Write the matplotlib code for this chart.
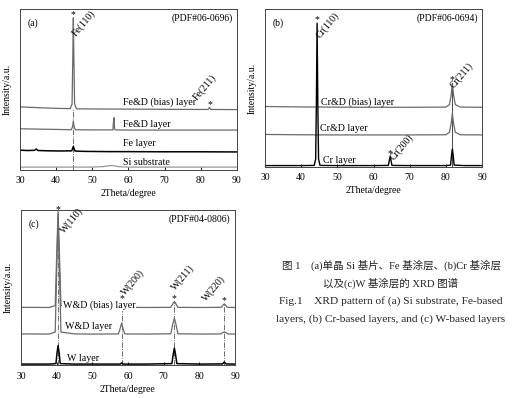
import matplotlib
matplotlib.use("Agg")
import matplotlib.pyplot as plt

plt.rcParams["font.family"] = ["Liberation Serif", "Noto Sans CJK SC"]

GREY = "#6a6a6a"
LIGHT = "#8c8c8c"
XTICKS = [30, 40, 50, 60, 70, 80, 90]

# ---- (a) Fe-based layers (2theta, a.u.)
FE_BIAS_X = [30, 35, 40, 43.9, 44.4, 44.6, 44.75, 44.9, 45.1, 45.6, 50, 60, 70, 80, 82.0, 82.4, 82.8, 90]
FE_BIAS_Y = [39.2, 38.7, 38.3, 38.1, 41.0, 70.0, 94.5, 70.0, 41.0, 38.0, 37.9, 37.8, 37.7, 37.6, 37.6, 38.8, 37.6, 37.5]
FED_X = [30, 40, 44.2, 44.55, 44.75, 44.95, 45.3, 50, 55.7, 55.85, 56.0, 56.15, 56.5, 60, 70, 80, 90]
FED_Y = [25.6, 25.2, 25.0, 27.0, 30.5, 27.0, 25.0, 24.9, 24.9, 30.0, 32.5, 25.3, 24.9, 24.8, 24.8, 24.8, 24.8]
FE_X = [30, 32, 34, 34.5, 35, 38, 41, 44.3, 44.75, 45.2, 47, 50, 55, 60, 70, 80, 90]
FE_Y = [12.3, 12.1, 12.2, 13.0, 12.1, 11.9, 11.8, 11.9, 14.6, 11.8, 11.6, 11.5, 11.4, 11.4, 11.3, 11.3, 11.2]
SI_X = [30, 40, 50, 53, 55, 56, 57.5, 60, 70, 80, 90]
SI_Y = [1.8, 1.8, 1.8, 2.1, 2.8, 2.6, 2.0, 1.8, 1.8, 1.8, 1.8]

# ---- (b) Cr-based layers
CR_BIAS_X = [30, 40, 50, 60, 70, 80, 81.0, 81.5, 81.8, 82.1, 82.6, 84, 90]
CR_BIAS_Y = [38.3, 38.0, 37.9, 37.8, 37.8, 37.9, 39.5, 46.0, 53.0, 46.0, 39.5, 37.9, 37.8]
CRD_X = [30, 40, 50, 60, 70, 80, 81.0, 81.5, 81.8, 82.1, 82.6, 84, 90]
CRD_Y = [20.6, 20.4, 20.3, 20.3, 20.3, 20.4, 22.0, 28.0, 34.0, 28.0, 22.0, 20.4, 20.3]
CR_X = [30, 35, 40, 43.6, 44.0, 44.2, 44.4, 44.6, 44.8, 45.2, 50, 60, 64.1, 64.4, 64.6, 64.8, 65.1, 70, 80,
        81.3, 81.6, 81.8, 82.0, 82.3, 85, 90]
CR_Y = [0.9, 0.9, 0.9, 1.0, 5.0, 40.0, 91.0, 40.0, 5.0, 1.0, 0.9, 0.9, 1.0, 4.5, 6.5, 4.5, 1.0, 0.9, 0.9,
        1.2, 8.0, 11.4, 8.0, 1.2, 0.9, 0.9]

# ---- (c) W-based layers
W_BIAS_X = [30, 38, 39.6, 40.0, 40.4, 40.8, 41.2, 45, 50, 57.3, 57.9, 58.2, 58.5, 59.1, 65, 72.0, 72.6, 73.0,
            73.4, 74.0, 80, 86.2, 86.7, 87.0, 87.3, 87.8, 90]
W_BIAS_Y = [37.4, 37.3, 38.5, 70.0, 99.0, 70.0, 38.5, 37.3, 37.3, 37.4, 39.8, 41.1, 39.8, 37.4, 37.3, 37.4,
            39.8, 41.2, 39.8, 37.4, 37.3, 37.4, 39.0, 39.6, 39.0, 37.4, 37.3]
WD_X = [30, 38, 39.6, 40.0, 40.4, 40.8, 41.2, 45, 50, 57.3, 57.9, 58.2, 58.5, 59.1, 65, 72.0, 72.6, 73.0,
        73.4, 74.0, 80, 86.0, 86.6, 87.0, 87.4, 88.0, 90]
WD_Y = [20.3, 20.2, 21.5, 60.0, 97.0, 60.0, 21.5, 20.3, 20.2, 20.3, 24.5, 27.2, 24.5, 20.3, 20.2, 20.4,
        27.0, 30.4, 27.0, 20.4, 20.2, 20.3, 21.2, 21.5, 21.2, 20.3, 20.2]
W_X = [30, 38, 39.8, 40.1, 40.4, 40.7, 41.0, 45, 50, 57.8, 58.2, 58.6, 65, 72.3, 72.7, 73.0, 73.3, 73.7, 80,
       86.5, 87.0, 87.5, 90]
W_Y = [0.9, 0.9, 1.2, 8.0, 12.8, 8.0, 1.2, 0.9, 0.9, 0.9, 1.6, 0.9, 0.9, 1.2, 7.5, 11.2, 7.5, 1.2, 0.9,
       1.0, 2.2, 1.0, 0.9]

# peak positions / labels: (x, star y, text, text x, text y)
FE_PEAKS = [(44.75, 96.5, "Fe(110)", 46.0, 82.0), (82.4, 40.5, "Fe(211)", 79.3, 42.0)]
CR_PEAKS = [(44.4, 93.0, "Cr(110)", 45.6, 80.5), (64.6, 8.5, "Cr(200)", 66.0, 3.0), (81.8, 55.0, "Cr(211)", 82.6, 48.5)]
W_PEAKS = [(40.4, 100.0, "W(110)", 42.6, 84.0), (58.2, 43.3, "W(200)", 59.8, 44.0),
           (73.0, 43.3, "W(211)", 73.6, 47.0), (87.0, 41.8, "W(220)", 82.4, 40.0)]

CAPTION = ["图 1　(a)单晶 Si 基片、Fe 基涂层、(b)Cr 基涂层",
           "以及(c)W 基涂层的 XRD 图谱",
           "Fig.1　XRD pattern of (a) Si substrate, Fe-based",
           "layers, (b) Cr-based layers, and (c) W-based layers"]
CAPTION_SIZE = [7.6, 7.6, 8.2, 8.2]


def style_axes(ax, tag, pdf):
    ax.set_xlim(30, 90)
    ax.set_ylim(0, 100)
    ax.set_xticks(XTICKS)
    ax.set_yticks([])
    ax.tick_params(axis="x", direction="in", length=2.5, width=0.6, labelsize=7, pad=4.5)
    for s in ax.spines.values():
        s.set_linewidth(0.7)
        s.set_color("#444444")
    ax.set_xlabel("2Theta/degree", fontsize=7, labelpad=3)
    ax.set_ylabel("Intensity/a.u.", fontsize=7, labelpad=6)
    ax.text(0.035, 0.91, tag, transform=ax.transAxes, fontsize=7, va="center")
    ax.text(0.98, 0.94, pdf, transform=ax.transAxes, fontsize=7, ha="right", va="center")


def add_peaks(ax, peaks, angle=50):
    for x, ys, label, tx, ty in peaks:
        ax.text(x, ys, "*", fontsize=7, ha="center", va="center")
        ax.text(tx, ty, label, fontsize=7, rotation=angle, rotation_mode="anchor", ha="left", va="bottom")


def layer_label(ax, x, y, s, box=False):
    kw = dict(fontsize=7.2, va="center", ha="left")
    if box:
        kw["bbox"] = dict(facecolor="white", edgecolor="none", pad=0.3)
    ax.text(x, y, s, **kw)


fig = plt.figure(figsize=(5.22, 3.98), dpi=100)
ax_a = fig.add_axes([0.0383, 0.5729, 0.4157, 0.4045])
ax_b = fig.add_axes([0.5077, 0.5804, 0.4157, 0.3970])
ax_c = fig.add_axes([0.0402, 0.0817, 0.4100, 0.3907])

# (a)
ax_a.plot([44.75, 44.75], [0, 38], ls="-.", color="#555555", lw=0.6)
ax_a.plot(FE_BIAS_X, FE_BIAS_Y, color=GREY, lw=0.9)
ax_a.plot(FED_X, FED_Y, color=GREY, lw=0.9)
ax_a.plot(FE_X, FE_Y, color="black", lw=1.1)
ax_a.plot(SI_X, SI_Y, color=LIGHT, lw=0.8)
add_peaks(ax_a, FE_PEAKS)
layer_label(ax_a, 58.4, 42.0, "Fe&D (bias) layer")
layer_label(ax_a, 58.4, 28.0, "Fe&D layer")
layer_label(ax_a, 58.4, 16.6, "Fe layer")
layer_label(ax_a, 58.4, 4.4, "Si substrate")
style_axes(ax_a, "(a)", "(PDF#06-0696)")

# (b)
ax_b.plot([81.8, 81.8], [0, 53], color="black", lw=0.5)
ax_b.plot(CR_BIAS_X, CR_BIAS_Y, color=GREY, lw=0.9)
ax_b.plot(CRD_X, CRD_Y, color=GREY, lw=0.9)
ax_b.plot(CR_X, CR_Y, color="black", lw=1.0)
add_peaks(ax_b, CR_PEAKS)
layer_label(ax_b, 45.5, 41.0, "Cr&D (bias) layer")
layer_label(ax_b, 45.2, 24.5, "Cr&D layer")
layer_label(ax_b, 46.1, 3.8, "Cr layer")
style_axes(ax_b, "(b)", "(PDF#06-0694)")

# (c)
for x, ys, *_ in W_PEAKS:
    ax_c.plot([x, x], [0, ys - 2], ls="-.", color="#555555", lw=0.6)
ax_c.plot(W_BIAS_X, W_BIAS_Y, color=GREY, lw=0.9)
ax_c.plot(WD_X, WD_Y, color=GREY, lw=0.9)
ax_c.plot(W_X, W_Y, color="black", lw=1.1)
add_peaks(ax_c, W_PEAKS)
layer_label(ax_c, 41.7, 38.5, "W&D (bias) layer", box=True)
layer_label(ax_c, 42.3, 25.0, "W&D layer")
layer_label(ax_c, 42.8, 4.5, "W layer")
style_axes(ax_c, "(c)", "(PDF#04-0806)")

ys = [265, 283, 301, 319]
for line, y, fs in zip(CAPTION, ys, CAPTION_SIZE):
    fig.text(391 / 522, 1 - y / 398, line, fontsize=fs, ha="center", va="center", color="#222222")

fig.savefig("out.png", dpi=100)
